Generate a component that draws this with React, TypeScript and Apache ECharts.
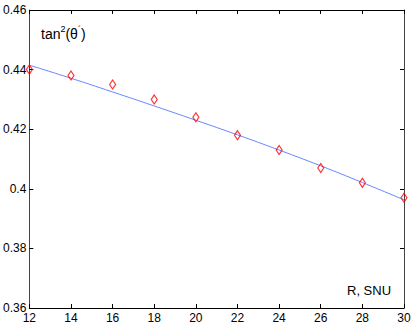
import React, { useEffect, useRef } from "react";
import * as echarts from "echarts";

const xValues = [12, 14, 16, 18, 20, 22, 24, 26, 28, 30];
const measured = [0.44, 0.438, 0.435, 0.43, 0.424, 0.418, 0.413, 0.407, 0.402, 0.397];
const fitted = [0.4415, 0.4371, 0.4325, 0.4278, 0.423, 0.4181, 0.413, 0.4077, 0.4021, 0.3963];

export default function App() {
  const ref = useRef<HTMLDivElement>(null);
  useEffect(() => {
    if (!ref.current) return;
    const chart = echarts.init(ref.current, undefined, { renderer: "svg" });
    const font = "Liberation Sans, Arial, Helvetica, sans-serif";
    const axisLine = { show: true, lineStyle: { color: "#000", width: 1 } };
    chart.setOption({
      animation: false,
      backgroundColor: "#fff",
      grid: { left: 26, right: 11, top: 10, bottom: 17 },
      xAxis: [
        {
          type: "value", min: 12, max: 30, interval: 2,
          axisLine, splitLine: { show: false },
          axisTick: { show: true, inside: true, length: 4, lineStyle: { color: "#000" } },
          axisLabel: { color: "#000", fontSize: 12, fontFamily: font, margin: 4 },
        },
        {
          type: "value", position: "top", min: 12, max: 30, interval: 2,
          axisLine, splitLine: { show: false },
          axisTick: { show: true, inside: true, length: 4, lineStyle: { color: "#000" } },
          axisLabel: { show: false },
        },
      ],
      yAxis: [
        {
          type: "value", min: 0.36, max: 0.46, interval: 0.02,
          axisLine: { show: true, lineStyle: { color: "#444", width: 1 } }, splitLine: { show: false },
          axisTick: { show: true, inside: true, length: 4, lineStyle: { color: "#000" } },
          axisLabel: { color: "#000", fontSize: 12, fontFamily: font, margin: 3 },
        },
        {
          type: "value", position: "right", min: 0.36, max: 0.46, interval: 0.02,
          axisLine: { show: true, lineStyle: { color: "#444", width: 1 } }, splitLine: { show: false },
          axisTick: { show: true, inside: true, length: 4, lineStyle: { color: "#000" } },
          axisLabel: { show: false },
        },
      ],
      series: [
        {
          type: "line",
          data: xValues.map((x, i) => [x, fitted[i]]),
          showSymbol: false,
          smooth: true,
          lineStyle: { color: "#4466ff", width: 0.8 },
          z: 2,
        },
        {
          type: "scatter",
          data: xValues.map((x, i) => [x, measured[i]]),
          symbol: "diamond",
          symbolSize: [6, 9],
          itemStyle: { color: "transparent", borderColor: "#ff0000", borderWidth: 1.2 },
          z: 3,
        },
      ],
      graphic: [
        {
          type: "text",
          left: 41,
          top: 24,
          style: {
            text: "{b|tan}{s|2}{b|(θ}{s|´}{b|)}",
            rich: {
              b: { fontSize: 14, fontFamily: font, fill: "#000", verticalAlign: "bottom" },
              s: { fontSize: 9, fontFamily: font, fill: "#000", verticalAlign: "top", padding: [0, 0, 8, 0] },
            },
          },
        },
        {
          type: "text",
          left: 347,
          top: 284,
          style: { text: "R, SNU", fontSize: 13, fontFamily: font, fill: "#000" },
        },
      ],
    });
    return () => chart.dispose();
  }, []);
  return <div ref={ref} style={{ width: 415, height: 325, position: "absolute", left: 0, top: 0 }} />;
}
